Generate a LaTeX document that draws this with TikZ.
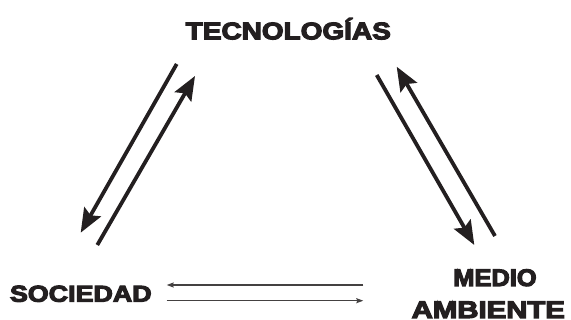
\documentclass[tikz,border=0pt]{standalone}
\usepackage{fontspec}
\usepackage{graphicx}
\setmainfont{Liberation Sans}
\newfontfamily\heavy[FakeBold=4.5]{Liberation Sans Bold}
\usetikzlibrary{arrows.meta}
\definecolor{ink}{HTML}{231F20}
\tikzset{
  label/.style={inner sep=0pt, anchor=base, text=ink, font=\heavy\fontsize{24}{24}\selectfont},
  bigarrow/.style={draw=ink, line width=3.8pt, -{Stealth[length=24pt,width=19pt,inset=4pt]}},
  thinarrow/.style={draw=ink!85, line width=1.2pt, -{Stealth[length=7pt,width=5pt,inset=1pt]}}
}
\begin{document}
\begin{tikzpicture}[x=1pt,y=-1pt]
\useasboundingbox (0,0) rectangle (571,320);
\node[label] (tec) at (288.3,39.3) {\resizebox{205pt}{\height}{TECNOLOGÍAS}};
\node[label, font=\heavy\fontsize{23}{23}\selectfont] (soc) at (80.8,301.7) {\resizebox{141.7pt}{\height}{SOCIEDAD}};
\node[label] (med) at (495,286) {\resizebox{83.3pt}{\height}{MEDIO}};
\node[label] (amb) at (488.3,318) {\resizebox{153.3pt}{\height}{AMBIENTE}};
% left pair
\coordinate (a1s) at (176.7,64);
\coordinate (a1e) at (80.7,232.7);
\coordinate (a2s) at (97.3,245);
\coordinate (a2e) at (195,76);
% right pair
\coordinate (a3s) at (376.7,75);
\coordinate (a3e) at (474.3,245);
\coordinate (a4s) at (495,236);
\coordinate (a4e) at (396.7,66.7);
% bottom pair
\coordinate (b1s) at (363.3,285);
\coordinate (b1e) at (166.7,285);
\coordinate (b2s) at (166.7,300.7);
\coordinate (b2e) at (363.3,300.7);
\draw[bigarrow] (a1s) -- (a1e);
\draw[bigarrow] (a2s) -- (a2e);
\draw[bigarrow] (a3s) -- (a3e);
\draw[bigarrow] (a4s) -- (a4e);
\draw[thinarrow] (b1s) -- (b1e);
\draw[thinarrow] (b2s) -- (b2e);
\end{tikzpicture}
\end{document}
